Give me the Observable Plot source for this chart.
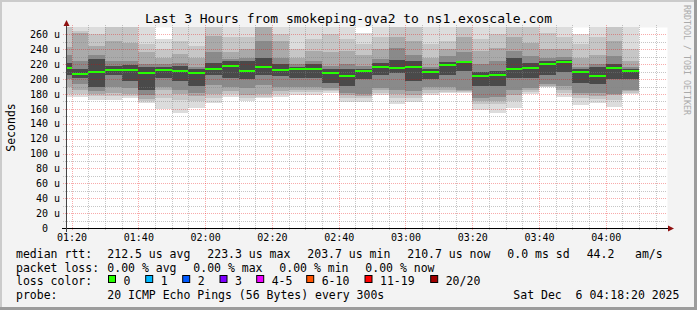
<!DOCTYPE html>
<html><head><meta charset="utf-8">
<script src="https://cdn.jsdelivr.net/npm/d3@7"></script>
<script src="https://cdn.jsdelivr.net/npm/@observablehq/plot@0.6"></script>
<style>
html,body{margin:0;padding:0;background:#f3f3f3;}
svg{display:block;}
</style></head><body><div id="chart"></div>
<script>
// ---- data ----
const titleText = "Last 3 Hours from smokeping-gva2 to ns1.exoscale.com";
const rangeStart = "01:18:20";
const rangeEnd = "04:18:20";
const binEnd = ["01:20","01:25","01:30","01:35","01:40","01:45","01:50","01:55","02:00","02:05","02:10","02:15",
  "02:20","02:25","02:30","02:35","02:40","02:45","02:50","02:55","03:00","03:05","03:10","03:15",
  "03:20","03:25","03:30","03:35","03:40","03:45","03:50","03:55","04:00","04:05","04:10"];
const median = [214.4,206.7,209.8,212.5,212.5,208.5,212.5,211.2,208.5,213.9,217.9,211.2,216.5,
  212.5,213.9,213.9,208.5,204.5,211.2,216.5,215.2,216.5,209.8,219.2,222.8,
  204.5,205.8,213.9,215.2,220.5,223.3,209.8,203.7,215.2,210.7];
// smoke bands: outermost (1) to innermost (5)
const lo1 = [176,175.4,171.8,171.8,174,168,160,154.4,161,168,175.4,170,174,175.4,179,179,182,169.5,169.5,179,166.4,169.5,179,181,182,158.8,154.8,161.5,179.9,188.8,176,165.5,168,162.4,180];
const lo2 = [180,180,177,177,177,171,175,172,170,175,180,175,176,180,183,183,184,174,174,182,175,175,182,183,183,166,166,170,183,190,181,174,173,172,182];
const lo3 = [190,185,180,182,180,173,186,180,177,180,184,178,180,184,186,186,185,178,177,185,180,178,186,186,184,170,170,178,186,191,186,178,177,178,184];
const lo4 = [200,194,184,190,188,178,190,185,182,192,190,188,192,190,190,190,188,182,180,188,186,184,190,189,186,175,176,186,188,193,191,182,182,180,186];
const lo5 = [206,202,189,205,198,185,202,198,191,206,202,200,206,204,202,202,195,191,200,206,208,198,200,206,211,191,191,202,202,206,209,195,193,200,200];
const hi5 = [222,214,227,218,219,216,216,218,214,222,224,224,229,220,216,220,214,214,214,222,226,224,214,223,224,209,211,229,222,224,226,214,216,220,214];
const hi4 = [232,224,233,224,224,220,220,222,216,236,227,229,251,229,220,225,218,220,218,227,242,233,216,231,236,220,225,238,231,229,230,216,220,231,216];
const hi3 = [243,262,244,251,249,236,229,234,229,258,236,240,280,251,229,238,236,238,232,240,256,251,229,240,256,238,242,256,249,240,240,229,233,251,225];
const hi2 = [275,265,260,280,280,247,240,251,245,280,256,256,280,260,240,254,260,254,247,256,280,280,247,251,280,254,260,280,280,262,256,247,256,280,240];
const hi1 = [280,280,280,280,280,280,254,280,280,280,280,280,280,280,280,280,280,280,262,280,280,280,280,280,280,280,280,280,280,280,280,260,280,280,280];
const yTicks = [0,20,40,60,80,100,120,140,160,180,200,220,240,260];
const xTickLabels = ["01:20","01:40","02:00","02:20","02:40","03:00","03:20","03:40","04:00"];
const rttLabel = "median rtt:";
const rttStats = ["212.5 us avg","223.3 us max","203.7 us min","210.7 us now","0.0 ms sd"];
const amsValue = "44.2";
const amsUnit = "am/s";
const lossLabel = "packet loss:";
const lossStats = ["0.00 % avg","0.00 % max","0.00 % min","0.00 % now"];
const colorLabel = "loss color:";
const lossLabels = ["0","1","2","3","4-5","6-10","11-19","20/20"];
const lossColors = ["#26ff00","#00b8ff","#0059ff","#7e00ff","#ee00ff","#ff5500","#ff0000","#a10000"];
const probeLabel = "probe:";
const probeText = "20 ICMP Echo Pings (56 Bytes) every 300s";
const stampText = "Sat Dec  6 04:18:20 2025";
const yLabel = "Seconds";
const watermark = "RRDTOOL / TOBI OETIKER";

// ---- styles ----
const smokeColors = ["#dcdcdc","#c6c6c6","#aaaaaa","#8a8a8a","#4a4a4a"];
const FONT = "DejaVu Sans Mono";

const T = s => new Date(`2025-12-06T${s.length === 5 ? s + ":00" : s}Z`);
const stepMs = 5 * 60 * 1000;
const los = [lo1, lo2, lo3, lo4, lo5];
const his = [hi1, hi2, hi3, hi4, hi5];
const bins = binEnd.map((e, i) => ({
  x1: new Date(+T(e) - stepMs), x2: T(e), m: median[i],
  lo: los.map(a => a[i]), hi: his.map(a => a[i])
}));
const xDomain = [T(rangeStart), T(rangeEnd)];
const majorX = xTickLabels.map(T);
const minorX = d3.utcMinute.every(5).range(xDomain[0], xDomain[1]).filter(d => d.getUTCMinutes() % 20 !== 0);
const majorY = yTicks.filter(v => v > 0);
const minorY = yTicks.map(v => v + 10).filter(v => v < 270);
const mw = 1.4;

const smokeMarks = smokeColors.map((c, k) => Plot.rect(bins, {
  x1: "x1", x2: "x2", y1: d => d.lo[k], y2: d => d.hi[k], fill: c, clip: true, shapeRendering: "crispEdges"
}));

const chart = Plot.plot({
  width: 697, height: 310,
  marginLeft: 66, marginRight: 30, marginTop: 27, marginBottom: 82,
  style: {background: "#f3f3f3", fontFamily: FONT, fontSize: "10px", color: "#000"},
  x: {type: "utc", domain: xDomain, label: null},
  y: {domain: [0, 270], label: null},
  marks: [
    Plot.frame({fill: "#ffffff", stroke: "none"}),
    ...smokeMarks,
    Plot.ruleY(minorY, {stroke: "#808080", strokeOpacity: 0.45, strokeDasharray: "1,1", insetLeft: -3, shapeRendering: "crispEdges"}),
    Plot.ruleX(minorX, {stroke: "#808080", strokeOpacity: 0.45, strokeDasharray: "1,1", insetBottom: -2, insetTop: -2, shapeRendering: "crispEdges"}),
    Plot.ruleY(majorY, {stroke: "#e90000", strokeOpacity: 0.33, strokeDasharray: "1,1", insetLeft: -3, shapeRendering: "crispEdges"}),
    Plot.ruleX(majorX, {stroke: "#e90000", strokeOpacity: 0.33, strokeDasharray: "1,1", insetBottom: -3, insetTop: -2, shapeRendering: "crispEdges"}),
    Plot.rect(bins, {x1: "x1", x2: "x2", y1: d => d.m - mw, y2: d => d.m + mw, fill: lossColors[0], clip: true, shapeRendering: "crispEdges"}),
    Plot.axisY({ticks: yTicks, tickFormat: d => d === 0 ? "0\u00a0\u00a0" : `${d} u`, tickSize: 0, tickPadding: 6.5, fill: "#000"}),
    Plot.axisX({ticks: majorX, tickFormat: d3.utcFormat("%H:%M"), tickSize: 0, tickPadding: 5.5, fill: "#000"})
  ]
});
document.getElementById("chart").appendChild(chart);

// ---- decorations: axes lines, arrows, texts, legend ----
const svg = d3.select(chart);
const g = svg.append("g").attr("text-anchor", "start");
// frame shading
g.append("rect").attr("x", 0).attr("y", 0).attr("width", 697).attr("height", 2).attr("fill", "#cbcbcb");
g.append("rect").attr("x", 0).attr("y", 0).attr("width", 2).attr("height", 310).attr("fill", "#cbcbcb");
g.append("rect").attr("x", 694).attr("y", 0).attr("width", 3).attr("height", 310).attr("fill", "#9c9c9c");
g.append("rect").attr("x", 0).attr("y", 307).attr("width", 697).attr("height", 3).attr("fill", "#9c9c9c");
// axes
g.append("line").attr("x1", 62).attr("x2", 669).attr("y1", 228.5).attr("y2", 228.5).attr("stroke", "#000").attr("stroke-width", 1);
g.append("path").attr("d", "M668,225.5L674,228.5L668,231.5Z").attr("fill", "#8f1010");
g.append("line").attr("x1", 66.5).attr("x2", 66.5).attr("y1", 232).attr("y2", 25).attr("stroke", "#444").attr("stroke-width", 1);
g.append("path").attr("d", "M63.5,26L66.5,20L69.5,26Z").attr("fill", "#8f1010");

const txt = (x, y, s, size, opts = {}) => {
  const t = g.append("text").attr("x", x).attr("y", y).text(s)
    .attr("font-family", FONT).attr("font-size", size + "px").attr("fill", opts.fill || "#000")
    .attr("text-anchor", opts.anchor || "start")
    .style("white-space", "pre");
  if (opts.transform) t.attr("transform", opts.transform);
  if (opts.baseline) t.attr("dominant-baseline", opts.baseline);
  return t;
};
txt(348.5, 23, titleText, 13, {anchor: "middle"});
txt(0, 0, yLabel, 11.5, {anchor: "middle", baseline: "central", transform: "translate(10.5,127.5) rotate(-90)"});
txt(0, 0, watermark, 8.3, {fill: "#aaaaaa", transform: "translate(684,5) rotate(90)"});

const LS = 11.5;
const rows = [258, 271.6, 285.2, 299];
const col0 = 16, col1 = 107.3;
txt(col0, rows[0], rttLabel, LS);
rttStats.forEach((s, j) => txt(col1 + 100 * j, rows[0], s, LS));
txt(586.7, rows[0], amsValue, LS);
txt(635, rows[0], amsUnit, LS);
txt(col0, rows[1], lossLabel, LS);
lossStats.forEach((s, j) => txt(col1 + 86 * j, rows[1], s, LS));
txt(col0, rows[2], colorLabel, LS);
const boxX = [108.5, 145.7, 182.7, 220, 256.7, 306.7, 365, 430.7];
lossLabels.forEach((s, j) => {
  g.append("rect").attr("x", boxX[j]).attr("y", 275.5).attr("width", 7).attr("height", 7)
    .attr("fill", lossColors[j]).attr("stroke", "#000").attr("stroke-width", 1);
  txt(boxX[j] + 15, rows[2], s, LS);
});
txt(col0, rows[3], probeLabel, LS);
txt(col1, rows[3], probeText, LS);
txt(513.3, rows[3], stampText, LS);
</script>
</body></html>
